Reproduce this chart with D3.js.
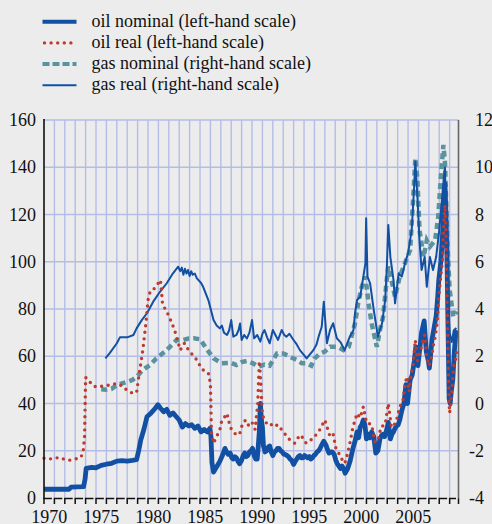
<!DOCTYPE html>
<html><head><meta charset="utf-8">
<script src="https://cdn.jsdelivr.net/npm/d3@7"></script>
<style>
html,body{margin:0;padding:0;background:#ececec;}
svg{display:block;}
text{font-family:"Liberation Serif","Times New Roman",serif;fill:#111;}
</style></head>
<body>
<svg id="chart" width="492" height="524"></svg>
<script>
// ---------- DATA ----------
const legendLabels = ["oil nominal (left-hand scale)", "oil real (left-hand scale)", "gas nominal (right-hand scale)", "gas real (right-hand scale)"];
const leftTicks = [0,20,40,60,80,100,120,140,160];
const rightTicks = [-4,-2,0,2,4,6,8,10,12];
const yearLabels = [1970,1975,1980,1985,1990,1995,2000,2005];

const oilNomDates = [1970.0,1972.4,1972.6,1973.8,1973.95,1974.05,1974.6,1975.0,1975.5,1976.0,1976.5,1977.0,1977.5,1978.0,1978.5,1978.9,1979.1,1979.3,1979.6,1979.9,1980.3,1980.7,1980.95,1981.2,1981.5,1981.8,1982.1,1982.4,1982.7,1983.0,1983.3,1983.6,1983.9,1984.2,1984.5,1984.8,1985.1,1985.4,1985.7,1985.95,1986.05,1986.15,1986.3,1986.5,1986.7,1986.9,1987.2,1987.4,1987.55,1987.7,1987.9,1988.05,1988.2,1988.35,1988.5,1988.65,1988.8,1989.0,1989.15,1989.3,1989.45,1989.6,1989.75,1989.9,1990.05,1990.2,1990.35,1990.5,1990.6,1990.7,1990.8,1990.9,1991.0,1991.1,1991.25,1991.4,1991.55,1991.7,1991.85,1992.0,1992.15,1992.3,1992.45,1992.6,1992.75,1992.9,1993.05,1993.2,1993.35,1993.5,1993.65,1993.8,1994.0,1994.15,1994.3,1994.45,1994.6,1994.75,1994.9,1995.05,1995.2,1995.35,1995.5,1995.65,1995.8,1995.95,1996.1,1996.25,1996.4,1996.55,1996.7,1996.9,1997.1,1997.25,1997.4,1997.55,1997.7,1997.9,1998.05,1998.2,1998.35,1998.5,1998.65,1998.8,1998.95,1999.2,1999.45,1999.7,1999.9,2000.1,2000.25,2000.4,2000.55,2000.7,2000.85,2001.0,2001.2,2001.35,2001.5,2001.7,2001.9,2002.1,2002.3,2002.45,2002.6,2002.75,2002.9,2003.1,2003.3,2003.45,2003.6,2003.75,2003.9,2004.05,2004.2,2004.4,2004.6,2004.8,2004.95,2005.2,2005.4,2005.6,2005.75,2005.95,2006.1,2006.3,2006.55,2006.75,2006.95,2007.05,2007.3,2007.5,2007.7,2007.85,2007.95,2008.15,2008.3,2008.45,2008.55,2008.65,2008.75,2008.85,2008.95,2009.05,2009.15,2009.3,2009.45,2009.6,2009.72];
const oilNomValues = [3.7,3.7,4.6,4.8,8,12.5,13,12.8,13.8,14.3,14.7,15.6,15.8,15.6,15.9,16.2,20,24.5,29,34.4,36,38,39.5,38,36.5,37.5,35,36,34.5,33,30,31.5,30.5,31,29.5,30.5,28,29,28,29.5,26,15,11,12.5,14,15.5,18.5,21,19.5,18.5,19,17,16.5,17.5,17,15.5,14.5,16,18,19,17.5,18,19.5,20,21,18,16.5,16.5,22,28,40,33,30,22,19.5,20,21.5,22,19.5,18,19.5,20,21,21,20,19.5,18.5,18.5,18,17.5,16.5,16,14.2,15.5,16.5,17.5,18,17,17,18,17.5,17,17.5,16.5,17,18,18.5,19.5,20,21,22.5,24,22.5,20.5,19,19.5,19.5,18.5,16,14.5,13.5,12.5,13.5,12.5,10.5,12.5,16,21,24,28,25.5,30,31,33,31,25,27,25.5,28,26,19,20,25,26.5,27,26,28,32,25,27,28,29.5,30.5,31,33,37,40,48,40,50,52,58,64,56,62,70,75,62,58,55,67,72,77,85,92,100,110,125,133,120,100,70,42,40,45,50,62,70,71];

const oilRealDates = [1970.0,1970.5,1971.0,1971.5,1972.0,1972.5,1973.0,1973.5,1973.75,1973.9,1974.0,1974.3,1974.6,1975.0,1975.5,1976.0,1976.5,1977.0,1977.5,1978.0,1978.4,1978.9,1979.1,1979.5,1979.8,1980.0,1980.2,1980.5,1980.7,1981.0,1981.2,1981.4,1981.9,1982.3,1982.6,1983.1,1983.5,1983.9,1984.4,1984.7,1985.0,1985.3,1985.8,1986.0,1986.1,1986.3,1986.6,1986.9,1987.1,1987.4,1987.6,1987.9,1988.2,1988.5,1988.8,1989.1,1989.4,1989.7,1990.0,1990.3,1990.55,1990.7,1990.85,1991.0,1991.4,1991.7,1992.0,1992.5,1993.0,1993.65,1994.1,1994.6,1995.0,1995.2,1995.9,1996.5,1997.0,1997.5,1997.8,1998.1,1998.5,1998.8,1999.0,1999.4,1999.7,2000.1,2000.4,2000.7,2001.0,2001.2,2001.5,2001.8,2002.1,2002.4,2002.8,2003.1,2003.4,2003.6,2003.9,2004.2,2004.5,2004.75,2004.9,2005.1,2005.3,2005.5,2005.7,2005.9,2006.2,2006.4,2006.6,2006.8,2007.0,2007.2,2007.4,2007.6,2007.8,2007.95,2008.1,2008.3,2008.45,2008.55,2008.65,2008.75,2008.85,2008.95,2009.0,2009.1,2009.25,2009.4,2009.55,2009.7];
const oilRealValues = [16.8,16.5,16.8,17.2,16.3,16,16.5,17,19,26,51,50,47.8,47,47.3,47.6,48,48.5,47.5,45.5,44.6,44.6,51,62.6,74,83.8,87.3,88,89.4,91,92.3,82,78,74,70.4,62.6,65.5,62.6,60,58.4,56,54.2,52.9,48.5,27.4,23.2,26,28.8,33,34.5,35.8,30,28,26.7,27,31.6,33,30.5,32,29,40,58,48,35,31.6,32,30.2,31,28,24.5,23.2,26.7,25,23.2,25.3,28.8,33,26,27,20.3,18,14.7,15.5,23,30,35.8,34,38.6,32,31.6,31,23.8,24,30.2,31,40,30,30.2,33,38.6,41,49,51.4,45,52,57,66.9,58,62.6,66,69,60,56,58,64,68,74,85,92,100,118,124,112,85,60,40,36,40,48,56,58,62.6];

const gasNomDates = [1975.5,1976.0,1976.5,1977.0,1977.5,1978.0,1978.5,1978.9,1979.5,1980.2,1980.8,1981.6,1982.3,1982.75,1983.4,1983.9,1984.4,1985.0,1985.6,1986.3,1987.1,1988.0,1988.5,1989.0,1989.5,1990.1,1990.6,1991.2,1991.7,1992.4,1993.0,1993.65,1994.3,1994.8,1995.25,1995.7,1996.0,1996.5,1997.0,1997.5,1998.2,1998.8,1999.3,1999.9,2000.2,2000.55,2000.9,2001.2,2001.5,2002.0,2002.3,2002.6,2002.95,2003.1,2003.4,2003.75,2004.2,2004.7,2005.2,2005.5,2005.7,2005.9,2006.1,2006.5,2006.8,2007.1,2007.6,2007.9,2008.2,2008.4,2008.55,2008.8,2009.0,2009.35,2009.68];
const gasNomValues = [0.6,0.58,0.62,0.78,0.85,0.92,1.0,1.13,1.42,1.63,1.91,2.19,2.48,2.69,2.69,2.75,2.76,2.72,2.33,1.91,1.7,1.72,1.63,1.75,1.8,1.7,1.56,1.65,1.6,2.12,2.12,1.98,1.84,1.7,1.7,1.6,1.9,2.1,2.2,2.4,2.4,2.26,2.4,3.39,4.24,4.94,5.37,4.24,3.39,2.4,3.11,3.67,5.23,5.8,5.23,4.52,5.37,5.93,6.5,8.75,10.38,9.5,7.34,6.2,6.9,6.64,6.9,7.9,9.88,10.94,10.2,6.64,4.8,3.67,3.9];

const gasRealDates = [1975.9,1976.3,1977.0,1977.3,1978.0,1978.6,1978.9,1979.4,1979.9,1980.5,1981.15,1981.8,1982.4,1982.9,1983.1,1983.25,1983.4,1983.55,1983.7,1983.85,1984.0,1984.15,1984.3,1984.5,1984.7,1984.9,1985.1,1985.3,1985.8,1986.3,1986.6,1986.9,1987.1,1987.3,1987.6,1987.8,1988.0,1988.2,1988.5,1988.7,1988.85,1989.0,1989.25,1989.5,1989.75,1990.0,1990.2,1990.5,1990.8,1991.0,1991.2,1991.45,1991.7,1992.0,1992.25,1992.5,1992.85,1993.1,1993.3,1993.6,1993.97,1994.3,1994.6,1994.9,1995.25,1995.6,1995.9,1996.2,1996.4,1996.7,1996.9,1997.2,1997.5,1997.8,1998.15,1998.5,1998.9,1999.4,1999.75,1999.9,2000.1,2000.4,2000.7,2000.9,2000.97,2001.1,2001.35,2001.7,2002.1,2002.5,2002.8,2002.95,2003.1,2003.3,2003.6,2003.75,2004.1,2004.4,2004.7,2005.0,2005.35,2005.55,2005.7,2005.9,2006.1,2006.3,2006.6,2006.8,2007.1,2007.4,2007.7,2008.0,2008.2,2008.45,2008.55,2008.7,2008.85,2009.0,2009.2,2009.4,2009.65];
const gasRealValues = [1.91,2.12,2.55,2.8,2.8,2.9,3.18,3.53,3.82,4.31,4.73,5.09,5.51,5.79,5.6,5.75,5.45,5.7,5.5,5.65,5.4,5.6,5.45,5.5,5.3,5.2,5.1,4.94,4.38,3.53,3.3,3.18,3.3,3.0,2.9,3.1,3.53,2.83,2.9,3.1,3.39,2.69,2.9,2.75,3.0,3.53,2.76,2.9,2.62,2.95,3.11,2.8,2.55,3.11,2.9,2.69,3.11,2.9,2.83,2.95,2.7,2.5,2.26,2.1,1.91,2.1,2.26,2.5,2.83,3.25,4.31,2.55,3.11,3.4,2.76,2.6,2.26,2.83,3.1,3.82,4.38,4.52,5.37,5.93,7.84,5.37,5.09,3.96,2.83,3.39,4.38,5.65,7.56,6.2,5.23,4.24,5.51,5.37,5.93,6.36,7.34,8.9,10.24,8.75,6.9,5.65,6.2,4.94,6.2,5.65,6.2,7.34,8.33,9.6,10.0,6.64,4.0,3.0,2.6,3.1,3.2];

// ---------- STYLE ----------
const BLUE = "#1250a3", RED = "#bd3a2e", TEAL = "#5a929e", GRID = "#b4bde8";
const svg = d3.select("#chart");
const W = 492, H = 524;
svg.append("rect").attr("width", W).attr("height", H).attr("fill", "#ececec");

const x = d3.scaleLinear().domain([1970, 2009.85]).range([44, 458.5]);
const yL = d3.scaleLinear().domain([0, 160]).range([498, 120]);
const yR = d3.scaleLinear().domain([-4, 12]).range([498, 120]);

// gridlines
const g = svg.append("g");
g.selectAll("line.h").data(leftTicks.filter(d => d > 0)).join("line")
  .attr("x1", x(1970)).attr("x2", x.range()[1])
  .attr("y1", d => yL(d)).attr("y2", d => yL(d))
  .attr("stroke", GRID).attr("stroke-width", 1.4);
g.selectAll("line.v").data(d3.range(1971, 2010)).join("line")
  .attr("x1", d => x(d)).attr("x2", d => x(d))
  .attr("y1", yL(160)).attr("y2", yL(0))
  .attr("stroke", GRID).attr("stroke-width", 1.4);

// series
function series(dates, values) {
  return dates.map((d, i) => [d, values[i]]);
}
const lineL = d3.line().x(d => x(d[0])).y(d => yL(d[1]));
const lineR = d3.line().x(d => x(d[0])).y(d => yR(d[1]));

svg.append("path").datum(series(gasNomDates, gasNomValues)).attr("d", lineR)
  .attr("fill", "none").attr("stroke", TEAL).attr("stroke-width", 4.5).attr("stroke-dasharray", "6 4");
svg.append("path").datum(series(gasRealDates, gasRealValues)).attr("d", lineR)
  .attr("fill", "none").attr("stroke", BLUE).attr("stroke-width", 2).attr("stroke-linejoin", "round");
svg.append("path").datum(series(oilNomDates, oilNomValues)).attr("d", lineL)
  .attr("fill", "none").attr("stroke", BLUE).attr("stroke-width", 4.8).attr("stroke-linejoin", "round");
svg.append("path").datum(series(oilRealDates, oilRealValues)).attr("d", lineL)
  .attr("fill", "none").attr("stroke", RED).attr("stroke-width", 3.4)
  .attr("stroke-linecap", "round").attr("stroke-dasharray", "0 6.6");

// axes
svg.append("line").attr("x1", 44).attr("x2", 44).attr("y1", 119).attr("y2", 499)
  .attr("stroke", "#111").attr("stroke-width", 1.6);
svg.append("line").attr("x1", x.range()[1]).attr("x2", x.range()[1]).attr("y1", 120).attr("y2", 499)
  .attr("stroke", "#666").attr("stroke-width", 1.6);
// bottom axis with year ticks
const years = d3.range(1970, 2010);
const ax = svg.append("g");
ax.selectAll("path").data(years).join("path")
  .attr("d", d => {
    const x0 = x(d), x1 = Math.min(x(d + 1) - 2.5, x.range()[1] - 2.5);
    return `M${x0},504V498.6H${x1}`;
  })
  .attr("fill", "none").attr("stroke", "#111").attr("stroke-width", 1.5);
ax.append("path").attr("d", `M${x.range()[1]},504V498.6`).attr("stroke", "#111").attr("stroke-width", 1.5);

// tick labels
svg.selectAll("text.yl").data(leftTicks).join("text")
  .attr("x", 36).attr("y", d => yL(d) + 6).attr("text-anchor", "end")
  .attr("font-size", 18).text(d => d);
svg.selectAll("text.yr").data(rightTicks).join("text")
  .attr("x", d => d < 0 ? 469 : 475).attr("y", d => yR(d) + 6).attr("text-anchor", "start")
  .attr("font-size", 18).text(d => d);
svg.selectAll("text.xl").data(yearLabels).join("text")
  .attr("x", d => x(d + 0.5)).attr("y", 523).attr("text-anchor", "middle")
  .attr("font-size", 18).text(d => d);

// legend
const legStyles = [
  {stroke: BLUE, w: 4, dash: null, cap: "butt"},
  {stroke: RED, w: 3.4, dash: "0 6.6", cap: "round"},
  {stroke: TEAL, w: 4, dash: "7 3", cap: "butt"},
  {stroke: BLUE, w: 2, dash: null, cap: "butt"}
];
const leg = svg.append("g");
legendLabels.forEach((lab, i) => {
  const cy = 21.7 + i * 21.2;
  const s = legStyles[i];
  leg.append("line").attr("x1", i === 1 ? 44.5 : 42.5).attr("x2", 76.5).attr("y1", cy).attr("y2", cy)
    .attr("stroke", s.stroke).attr("stroke-width", s.w).attr("stroke-linecap", s.cap)
    .attr("stroke-dasharray", s.dash);
  leg.append("text").attr("x", 91.5).attr("y", cy + 5).attr("font-size", 18).text(lab);
});
</script>
</body></html>
